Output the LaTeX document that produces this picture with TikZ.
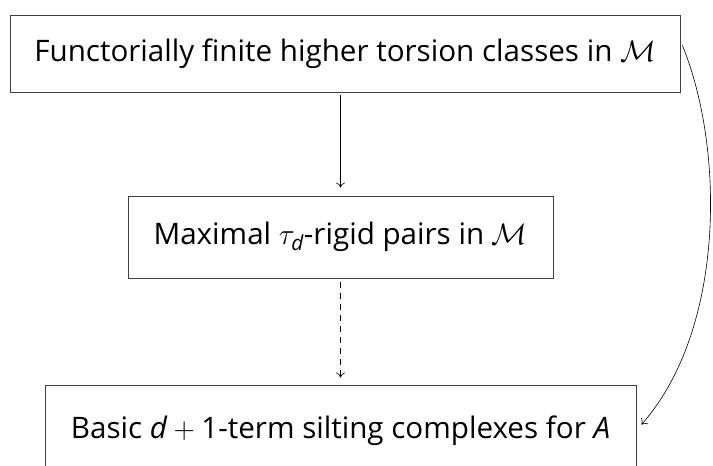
\RequirePackage{fix-cm}
\documentclass[tikz,border=0pt]{standalone}
\usepackage{amsmath}
\usepackage{fontspec}
\setmainfont{Open Sans}
\usetikzlibrary{arrows.meta,calc}
\newcommand{\itx}[1]{\text{\itshape #1}}
\begin{document}
\begin{tikzpicture}[x=1pt,y=-1pt,
  box/.style={draw=black!75, line width=0.9pt, rectangle, inner sep=0pt, font=\fontsize{29.6}{36}\selectfont},
  conn/.style={-{To[length=5pt,width=9pt]}, line width=0.6pt}]
\useasboundingbox (0,0) rectangle (713,466);
\fill[white] (0,0) rectangle (713,466);
\begin{scope}
\clip (0,0) rectangle (713,466);
\node[box, minimum width=670, minimum height=77] (top) at (345,53.5) {\raisebox{2pt}{Functorially finite higher torsion classes in $\mathcal{M}$}};
\node[box, minimum width=425, minimum height=82] (mid) at (340.5,237) {\raisebox{1pt}{Maximal $\tau_{\itx{d}}$-rigid pairs in $\mathcal{M}$}};
\node[box, minimum width=591, minimum height=86, text depth=0pt] (bot) at (340.5,428) {\raisebox{2pt}{Basic $\itx{d} + \text{1}$-term silting complexes for \textit{A}}};
\end{scope}
\draw[conn] (top.south -| mid.north) ++(0,3) -- ([yshift=8]mid.north);
\draw[conn, dashed, dash pattern=on 6pt off 5pt] ([yshift=-4]mid.south) -- ([yshift=7]bot.north);
\draw[conn] ([xshift=2,yshift=8]top.east) .. controls (725,150) and (725,330) .. ($(bot.north east)+(5,40)$);
\end{tikzpicture}
\end{document}
